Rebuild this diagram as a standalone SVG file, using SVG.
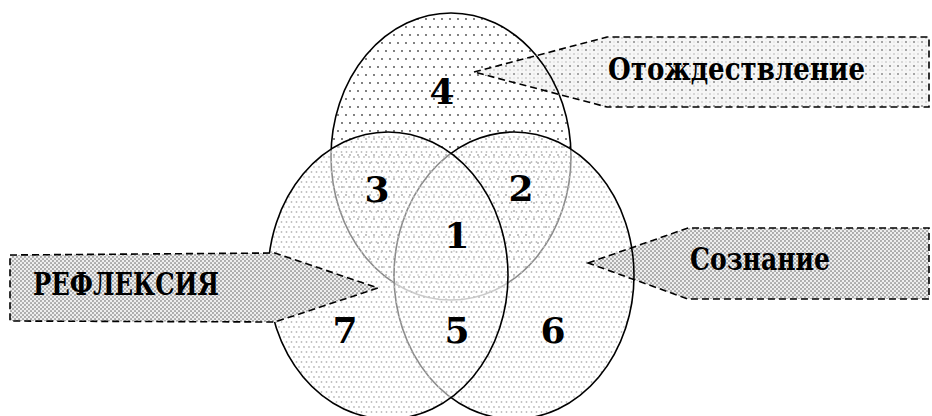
<svg xmlns="http://www.w3.org/2000/svg" width="932" height="416" viewBox="0 0 932 416">
<defs>
  <pattern id="pTop" width="8" height="16" patternUnits="userSpaceOnUse">
    <circle cx="2" cy="3" r="0.9" fill="#444"/>
    <circle cx="6" cy="11" r="0.9" fill="#444"/>
  </pattern>
  <pattern id="pSide" width="5" height="10" patternUnits="userSpaceOnUse">
    <circle cx="1.5" cy="2" r="0.9" fill="#bcbcbc"/>
    <circle cx="4" cy="7" r="0.9" fill="#bcbcbc"/>
  </pattern>
  <pattern id="pDense" width="4" height="4" patternUnits="userSpaceOnUse">
    <rect width="4" height="4" fill="#efefef"/>
    <circle cx="1" cy="1" r="1.05" fill="#a6a6a6"/>
    <circle cx="3" cy="3" r="1.05" fill="#a6a6a6"/>
  </pattern>
  <pattern id="pLight" width="8" height="8" patternUnits="userSpaceOnUse">
    <rect width="8" height="8" fill="#f6f6f6"/>
    <circle cx="2" cy="2" r="1" fill="#8a8a8a"/>
    <circle cx="6" cy="6" r="0.9" fill="#c8c8c8"/>
    <circle cx="6" cy="2" r="0.8" fill="#dcdcdc"/>
    <circle cx="2" cy="6" r="0.8" fill="#dcdcdc"/>
  </pattern>
  <clipPath id="cOtozh"><polygon points="474,72 607,37 929,37 929,107 607,107"/></clipPath>
  <clipPath id="cSozn"><polygon points="588,263 688,228 929,228 929,299 688,299"/></clipPath>
</defs>
<style>
  .ring{stroke:#000;stroke-width:1.6}
  .veil{fill:#fff;fill-opacity:0.55}
  .arrow{stroke:#000;stroke-width:1.6;stroke-dasharray:7 4}
  .lbl{font-family:"DejaVu Serif","Liberation Serif",serif;font-weight:bold;fill:#000}
  .num{font-family:"DejaVu Serif","Liberation Serif",serif;font-weight:bold;font-size:36px;fill:#000;text-anchor:middle}
</style>
<g id="circle-top">
  <ellipse cx="451" cy="156.5" rx="120" ry="143.5" fill="#fff"/>
  <ellipse cx="451" cy="156.5" rx="120" ry="143.5" fill="url(#pTop)" class="ring"/>
</g>
<g id="circle-right">
  <ellipse cx="514" cy="275.5" rx="120" ry="143.5" class="veil"/>
  <ellipse cx="514" cy="275.5" rx="120" ry="143.5" fill="url(#pSide)" class="ring"/>
</g>
<g id="circle-left">
  <ellipse cx="388" cy="275.5" rx="120" ry="143.5" class="veil"/>
  <ellipse cx="388" cy="275.5" rx="120" ry="143.5" fill="url(#pSide)" class="ring"/>
</g>
<g id="regions">
  <text class="num" x="442" y="104">4</text>
  <text class="num" x="377" y="202">3</text>
  <text class="num" x="521" y="201">2</text>
  <text class="num" x="457" y="248">1</text>
  <text class="num" x="345" y="343">7</text>
  <text class="num" x="457" y="343">5</text>
  <text class="num" x="553" y="343">6</text>
</g>
<g id="arrow-otozhdestvlenie">
  <polygon points="474,72 607,37 929,37 929,107 607,107" fill="url(#pLight)"/>
  <ellipse cx="451" cy="156.5" rx="120" ry="143.5" fill="none" class="ring" clip-path="url(#cOtozh)"/>
  <polygon points="474,72 607,37 929,37 929,107 607,107" fill="none" class="arrow"/>
  <text class="lbl" x="608" y="80" font-size="32" textLength="257" lengthAdjust="spacingAndGlyphs">Отождествление</text>
</g>
<g id="arrow-soznanie">
  <polygon points="588,263 688,228 929,228 929,299 688,299" fill="url(#pDense)"/>
  <ellipse cx="514" cy="275.5" rx="120" ry="143.5" fill="none" class="ring" clip-path="url(#cSozn)"/>
  <polygon points="588,263 688,228 929,228 929,299 688,299" fill="none" class="arrow"/>
  <text class="lbl" x="690" y="270" font-size="32" textLength="140" lengthAdjust="spacingAndGlyphs">Сознание</text>
</g>
<g id="arrow-refleksiya">
  <polygon points="10,255 275,253 378,288 275,322 10,321" fill="url(#pDense)" class="arrow"/>
  <text class="lbl" x="33" y="295" font-size="31" textLength="186" lengthAdjust="spacingAndGlyphs">РЕФЛЕКСИЯ</text>
</g>
<g id="connectors"></g>
</svg>
